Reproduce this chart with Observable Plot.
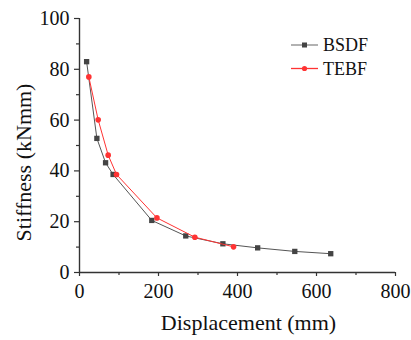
<!DOCTYPE html>
<html><head><meta charset="utf-8">
<script src="https://cdn.jsdelivr.net/npm/d3@7"></script>
<script src="https://cdn.jsdelivr.net/npm/@observablehq/plot@0.6"></script>
<style>
body{margin:0;background:#fff;}
#wrap{position:relative;width:411px;height:340px;}
#wrap svg, #wrap svg text{font-family:'Liberation Serif','Times New Roman',serif !important;}
</style>
</head><body>
<div id="wrap"></div>
<script>
const bsdfX = [18, 44, 66, 85, 183, 269, 363, 451, 545, 636];
const bsdfY = [83, 52.8, 43.2, 38.6, 20.5, 14.4, 11.3, 9.7, 8.3, 7.4];
const tebfX = [23.6, 47.3, 72.6, 93.7, 196, 292, 390];
const tebfY = [77, 60.1, 46.2, 38.6, 21.5, 13.9, 10.1];
const xTicks = [0, 200, 400, 600, 800];
const xMinor = [100, 300, 500, 700];
const yTicks = [0, 20, 40, 60, 80, 100];
const yMinor = [10, 30, 50, 70, 90];
const seriesNames = ["BSDF", "TEBF"];

const bsdf = bsdfX.map((x, i) => ({x, y: bsdfY[i]}));
const tebf = tebfX.map((x, i) => ({x, y: tebfY[i]}));
const font = "'Liberation Serif', 'Times New Roman', serif";
const axisColor = "#333";

const chart = Plot.plot({
  width: 411, height: 340,
  marginLeft: 79, marginRight: 16, marginTop: 18, marginBottom: 68,
  x: {domain: [0, 800]},
  y: {domain: [0, 100]},
  style: {fontFamily: font, fontSize: "20px", color: "#000", background: "#fff"},
  marks: [
    Plot.axisX({ticks: xTicks, tickSize: 4, tickPadding: 7, label: null, stroke: axisColor, strokeWidth: 1.2, fill: "#111", fontSize: 20}),
    Plot.axisX({ticks: xMinor, tickSize: 3, tickFormat: () => "", label: null, stroke: axisColor, strokeWidth: 1.2}),
    Plot.axisY({ticks: yTicks, tickSize: 5, tickPadding: 5, label: null, stroke: axisColor, strokeWidth: 1.2, fill: "#111", fontSize: 20}),
    Plot.axisY({ticks: yMinor, tickSize: 3, tickFormat: () => "", label: null, stroke: axisColor, strokeWidth: 1.2}),
    Plot.ruleX([0], {stroke: axisColor, strokeWidth: 1.4}),
    Plot.ruleY([0], {stroke: axisColor, strokeWidth: 1.4}),
    Plot.text(["Displacement (mm)"], {frameAnchor: "bottom", dx: 11, dy: 57, fontSize: 22, fill: "#111"}),
    Plot.text(["Stiffness (kNmm)"], {frameAnchor: "left", textAnchor: "middle", dx: -56, dy: 17, rotate: -90, fontSize: 22, fill: "#111"}),
    Plot.line(bsdf, {x: "x", y: "y", stroke: "#555", strokeWidth: 1}),
    Plot.dot(bsdf, {x: "x", y: "y", symbol: "square", fill: "#444", r: 3}),
    Plot.line(tebf, {x: "x", y: "y", stroke: "#f33", strokeWidth: 1}),
    Plot.dot(tebf, {x: "x", y: "y", symbol: "circle", fill: "#f33", r: 2.8})
  ]
});
const wrap = document.getElementById("wrap");
wrap.appendChild(chart);
d3.select(chart).selectAll("text").each(function () {
  this.style.setProperty("font-family", font, "important");
});

// legend overlay
const lineColors = ["#888", "#f33"];
const ns = "http://www.w3.org/2000/svg";
const lg = document.createElementNS(ns, "svg");
lg.setAttribute("width", 411); lg.setAttribute("height", 340);
lg.style.position = "absolute"; lg.style.left = "0"; lg.style.top = "0";
seriesNames.forEach((name, i) => {
  const cy = 45 + i * 23.5;
  const l = document.createElementNS(ns, "line");
  l.setAttribute("x1", 291); l.setAttribute("x2", 318);
  l.setAttribute("y1", cy); l.setAttribute("y2", cy);
  l.setAttribute("stroke", lineColors[i]); l.setAttribute("stroke-width", 1.3);
  lg.appendChild(l);
  if (i === 0) {
    const r = document.createElementNS(ns, "rect");
    r.setAttribute("x", 302); r.setAttribute("y", cy - 2.5);
    r.setAttribute("width", 5); r.setAttribute("height", 5);
    r.setAttribute("fill", "#444");
    lg.appendChild(r);
  } else {
    const c = document.createElementNS(ns, "circle");
    c.setAttribute("cx", 304.5); c.setAttribute("cy", cy); c.setAttribute("r", 2.6);
    c.setAttribute("fill", "#f33");
    lg.appendChild(c);
  }
  const t = document.createElementNS(ns, "text");
  t.setAttribute("x", 323); t.setAttribute("y", cy);
  t.setAttribute("dy", "0.35em");
  t.setAttribute("font-size", 18);
  t.setAttribute("fill", "#111");
  t.textContent = name;
  lg.appendChild(t);
});
wrap.appendChild(lg);
</script>
</body></html>
